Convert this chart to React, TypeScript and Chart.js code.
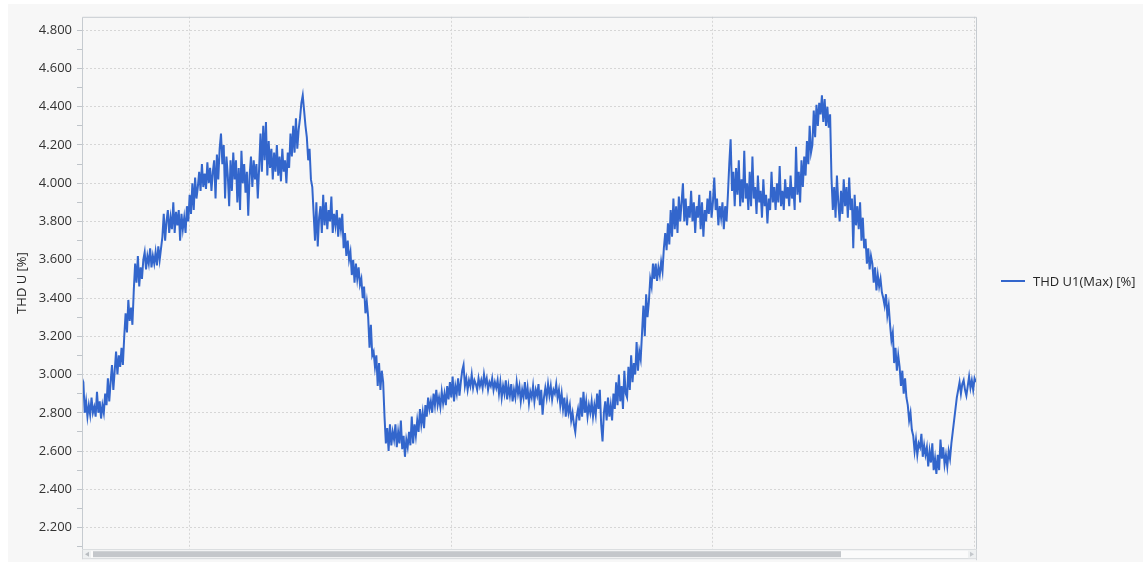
import React, { useEffect, useRef } from "react";
import { Chart, registerables } from "chart.js";

Chart.register(...registerables);

const SERIES_LABEL = "THD U1(Max) [%]";
const Y_TITLE = "THD U [%]";

// time axis (hours); vertical grid lines every 24 h
const START_HOUR = -9.85;
const STEP_HOURS = 0.125;
const X_MIN = -9.85;
const X_MAX = 72.25;
const X_GRID_HOURS = [0, 24, 48, 72];

// value axis
const Y_MIN = 2.087;
const Y_MAX = 4.87;
const Y_TICKS = [
  2.1, 2.2, 2.3, 2.4, 2.5, 2.6, 2.7, 2.8, 2.9, 3.0, 3.1, 3.2, 3.3, 3.4,
  3.5, 3.6, 3.7, 3.8, 3.9, 4.0, 4.1, 4.2, 4.3, 4.4, 4.5, 4.6, 4.7, 4.8,
];

// THD U1 (Max) [%], one sample every STEP_HOURS
const thdValues = [
  2.98, 2.96, 2.80, 2.86, 2.78, 2.84, 2.79, 2.88, 2.80, 2.83,
  2.78, 2.91, 2.80, 2.86, 2.77, 2.84, 2.80, 2.90, 2.84, 2.98,
  2.86, 2.96, 3.05, 2.92, 3.02, 3.12, 3.00, 3.10, 3.04, 3.14,
  3.05, 3.20, 3.32, 3.22, 3.39, 3.28, 3.35, 3.26, 3.44, 3.58,
  3.48, 3.62, 3.46, 3.56, 3.50, 3.60, 3.64, 3.55, 3.62, 3.58,
  3.66, 3.56, 3.62, 3.58, 3.64, 3.57, 3.67, 3.60, 3.66, 3.72,
  3.84, 3.70, 3.80, 3.86, 3.74, 3.82, 3.76, 3.90, 3.74, 3.85,
  3.78, 3.86, 3.70, 3.84, 3.76, 3.82, 3.74, 3.88, 3.80, 3.94,
  3.84, 4.00, 3.86, 4.03, 3.92, 3.98, 4.06, 3.96, 4.10, 3.98,
  4.05, 3.97, 4.11, 4.00, 4.08, 3.96, 4.06, 4.12, 3.92, 4.15,
  4.02, 4.18, 4.26, 4.10, 4.20, 3.92, 4.14, 4.04, 3.88, 4.12,
  3.96, 4.16, 4.02, 4.12, 3.90, 4.08, 3.86, 4.17, 4.00, 4.10,
  3.95, 4.06, 3.83, 4.04, 4.14, 3.98, 4.12, 4.02, 4.10, 3.92,
  4.08, 4.26, 4.06, 4.30, 4.12, 4.32, 4.04, 4.22, 4.08, 4.18,
  4.02, 4.16, 4.06, 4.20, 4.04, 4.14, 4.01, 4.18, 4.06, 4.12,
  4.00, 4.16, 4.08, 4.26, 4.14, 4.30, 4.16, 4.34, 4.18, 4.28,
  4.34, 4.42, 4.46, 4.38, 4.30, 4.24, 4.12, 4.18, 4.02, 3.98,
  3.84, 3.70, 3.90, 3.67, 3.82, 3.88, 3.74, 3.94, 3.78, 3.90,
  3.76, 3.86, 3.80, 3.93, 3.74, 3.84, 3.78, 3.86, 3.72, 3.82,
  3.76, 3.84, 3.66, 3.74, 3.62, 3.70, 3.60, 3.64, 3.52, 3.60,
  3.48, 3.58, 3.50, 3.56, 3.47, 3.50, 3.40, 3.46, 3.32, 3.38,
  3.30, 3.14, 3.26, 3.10, 3.12, 3.04, 3.10, 2.94, 3.06, 2.92,
  3.02, 2.96, 2.78, 2.64, 2.72, 2.60, 2.74, 2.63, 2.70, 2.66,
  2.74, 2.62, 2.70, 2.64, 2.76, 2.61, 2.68, 2.57, 2.66, 2.62,
  2.70, 2.63, 2.78, 2.64, 2.74, 2.68, 2.76, 2.70, 2.82, 2.74,
  2.80, 2.72, 2.84, 2.78, 2.88, 2.82, 2.86, 2.80, 2.90, 2.84,
  2.92, 2.84, 2.88, 2.83, 2.91, 2.85, 2.90, 2.84, 2.94, 2.87,
  2.96, 2.88, 2.99, 2.86, 2.94, 2.90, 2.98, 2.89, 2.96, 3.02,
  3.05, 2.94, 2.98, 2.92, 2.97, 2.94, 3.00, 2.93, 2.97, 2.95,
  2.92, 2.98, 2.94, 2.97, 2.93, 3.00, 2.95, 2.98, 2.92, 2.96,
  2.94, 2.98, 2.92, 2.96, 2.93, 2.97, 2.90, 2.96, 2.88, 2.94,
  2.90, 2.97, 2.87, 2.94, 2.89, 2.95, 2.86, 2.92, 2.88, 2.96,
  2.90, 2.94, 2.86, 2.92, 2.88, 2.96, 2.87, 2.93, 2.85, 2.91,
  2.88, 2.94, 2.86, 2.92, 2.89, 2.95, 2.84, 2.92, 2.79, 2.88,
  2.93, 2.88, 2.95, 2.89, 2.94, 2.87, 2.92, 2.90, 2.95, 2.88,
  2.92, 2.84, 2.90, 2.82, 2.88, 2.78, 2.86, 2.80, 2.84, 2.76,
  2.80, 2.74, 2.70, 2.78, 2.82, 2.76, 2.88, 2.78, 2.91, 2.80,
  2.86, 2.78, 2.84, 2.80, 2.86, 2.78, 2.84, 2.79, 2.90, 2.82,
  2.92, 2.74, 2.65, 2.80, 2.86, 2.76, 2.88, 2.78, 2.84, 2.76,
  2.90, 2.82, 2.96, 2.84, 3.00, 2.86, 2.94, 2.82, 3.02, 2.90,
  2.88, 3.04, 2.92, 3.10, 2.96, 3.06, 3.00, 3.17, 3.02, 3.12,
  3.08, 3.22, 3.36, 3.20, 3.42, 3.30, 3.38, 3.50, 3.46, 3.58,
  3.50, 3.58, 3.49, 3.56, 3.52, 3.59, 3.54, 3.66, 3.74, 3.65,
  3.79, 3.68, 3.86, 3.72, 3.92, 3.76, 3.88, 3.74, 3.93, 3.80,
  3.90, 4.00, 3.80, 3.92, 3.78, 3.88, 3.82, 3.96, 3.80, 3.90,
  3.74, 3.88, 3.82, 3.94, 3.76, 3.90, 3.72, 3.86, 3.80, 3.92,
  3.84, 3.96, 3.82, 3.90, 4.03, 3.86, 3.92, 3.78, 3.88, 3.82,
  3.90, 3.76, 3.88, 3.80, 3.94, 4.10, 4.23, 3.96, 4.06, 3.88,
  4.08, 3.94, 4.12, 3.88, 4.02, 3.90, 4.17, 3.92, 4.00, 3.86,
  4.06, 3.88, 4.14, 3.92, 3.98, 3.84, 4.04, 3.90, 3.96, 3.82,
  4.02, 3.88, 3.94, 3.79, 3.92, 3.86, 4.06, 3.90, 3.98, 3.86,
  4.00, 3.90, 4.09, 3.88, 3.96, 3.86, 4.02, 3.92, 3.98, 3.88,
  4.04, 3.92, 3.98, 3.86, 4.19, 3.94, 4.06, 3.90, 4.12, 3.98,
  4.14, 4.04, 4.22, 4.10, 4.30, 4.16, 4.20, 4.38, 4.24, 4.41,
  4.30, 4.42, 4.36, 4.46, 4.32, 4.44, 4.30, 4.40, 4.29, 4.36,
  4.03, 3.86, 3.98, 3.82, 4.04, 3.90, 3.80, 3.96, 3.84, 4.02,
  3.88, 3.98, 3.82, 4.03, 3.86, 3.92, 3.66, 3.94, 3.78, 3.88,
  3.76, 3.90, 3.70, 3.82, 3.66, 3.71, 3.58, 3.66, 3.55, 3.62,
  3.58, 3.48, 3.56, 3.44, 3.52, 3.46, 3.50, 3.43, 3.40, 3.36,
  3.42, 3.31, 3.36, 3.26, 3.18, 3.22, 3.06, 3.14, 3.02, 3.10,
  3.04, 2.94, 3.02, 2.90, 2.98, 2.88, 2.84, 2.76, 2.80, 2.71,
  2.68, 2.60, 2.66, 2.58, 2.64, 2.62, 2.69, 2.57, 2.63, 2.58,
  2.62, 2.52, 2.60, 2.54, 2.64, 2.50, 2.56, 2.48, 2.58, 2.50,
  2.66, 2.56, 2.62, 2.53, 2.58, 2.52, 2.60, 2.56, 2.64, 2.70,
  2.76, 2.82, 2.88, 2.92, 2.96, 2.90, 2.95, 2.97, 2.92, 2.89,
  2.94, 2.99, 2.93, 2.97, 2.92, 2.98, 2.96,
];

const LINE_COLOR = "#3366cc";
const FONT = "'Open Sans', 'Noto Sans', sans-serif";
const W = 1135;
const H = 558;

const isMajor = (v: number) => Math.round(v * 10) % 2 === 0;

const framePlugin = {
  id: "frameAndScroll",
  afterDraw(chart: any) {
    const { ctx, chartArea: a } = chart;
    ctx.save();
    ctx.setLineDash([]);
    // frame (left, top, right)
    ctx.strokeStyle = "#c6cbd0";
    ctx.lineWidth = 1;
    ctx.beginPath();
    ctx.moveTo(a.left + 0.5, a.bottom + 10);
    ctx.lineTo(a.left + 0.5, a.top + 0.5);
    ctx.lineTo(a.right - 0.5, a.top + 0.5);
    ctx.lineTo(a.right - 0.5, a.bottom + 11);
    ctx.stroke();
    // horizontal scrollbar
    const sy = a.bottom;
    const sh = 10;
    ctx.fillStyle = "#fbfbfb";
    ctx.fillRect(a.left, sy, a.right - a.left, sh);
    ctx.strokeStyle = "#d3d6d9";
    ctx.strokeRect(a.left + 0.5, sy + 0.5, a.right - a.left - 1, sh - 1);
    // left button
    ctx.fillStyle = "#eef0f1";
    ctx.fillRect(a.left + 1, sy + 1, 8, sh - 2);
    ctx.fillStyle = "#b9bdc1";
    ctx.beginPath();
    ctx.moveTo(a.left + 3, sy + 5);
    ctx.lineTo(a.left + 7, sy + 2.5);
    ctx.lineTo(a.left + 7, sy + 7.5);
    ctx.closePath();
    ctx.fill();
    // thumb
    ctx.fillStyle = "#c4c7cb";
    ctx.fillRect(a.left + 11, sy + 2, 748, sh - 4);
    // right button
    ctx.fillStyle = "#eef0f1";
    ctx.fillRect(a.right - 9, sy + 1, 8, sh - 2);
    ctx.fillStyle = "#c3c7cb";
    ctx.beginPath();
    ctx.moveTo(a.right - 3, sy + 5);
    ctx.lineTo(a.right - 7, sy + 2.5);
    ctx.lineTo(a.right - 7, sy + 7.5);
    ctx.closePath();
    ctx.fill();
    ctx.restore();
  },
};

const legendPlugin = {
  id: "sideLegend",
  afterDraw(chart: any) {
    const { ctx, chartArea: a } = chart;
    const ds = chart.data.datasets[0];
    const cy = Math.round((a.top + a.bottom) / 2) - 1;
    const x0 = a.right + 24;
    ctx.save();
    ctx.setLineDash([]);
    ctx.strokeStyle = ds.borderColor;
    ctx.lineWidth = 2;
    ctx.beginPath();
    ctx.moveTo(x0, cy - 1);
    ctx.lineTo(x0 + 24, cy - 1);
    ctx.stroke();
    ctx.fillStyle = "#262626";
    ctx.font = `13px ${FONT}`;
    ctx.textBaseline = "middle";
    ctx.textAlign = "left";
    ctx.fillText(ds.label, x0 + 32, cy);
    ctx.restore();
  },
};

export default function App() {
  const canvasRef = useRef<HTMLCanvasElement | null>(null);

  useEffect(() => {
    const canvas = canvasRef.current;
    if (!canvas) return;
    const points = thdValues.map((v, i) => ({ x: START_HOUR + i * STEP_HOURS, y: v }));
    const chart = new Chart(canvas, {
      type: "line",
      data: {
        datasets: [
          {
            label: SERIES_LABEL,
            data: points,
            borderColor: LINE_COLOR,
            backgroundColor: LINE_COLOR,
            borderWidth: 2,
            pointRadius: 0,
            tension: 0,
            fill: false,
          },
        ],
      },
      options: {
        animation: false,
        responsive: false,
        devicePixelRatio: 1,
        events: [],
        layout: { padding: { left: 0, top: 7, right: 166, bottom: 11 } },
        plugins: {
          legend: { display: false },
          tooltip: { enabled: false },
        },
        scales: {
          x: {
            type: "linear",
            min: X_MIN,
            max: X_MAX,
            afterBuildTicks: (scale: any) => {
              scale.ticks = X_GRID_HOURS.map((v) => ({ value: v }));
            },
            afterFit: (scale: any) => {
              scale.height = 0;
            },
            ticks: { display: false },
            grid: {
              color: "#d6d6d6",
              lineWidth: 1,
              drawTicks: false,
            },
            border: { display: false, dash: [2, 2] },
          },
          y: {
            type: "linear",
            min: Y_MIN,
            max: Y_MAX,
            afterBuildTicks: (scale: any) => {
              scale.ticks = Y_TICKS.map((v) => ({ value: v }));
            },
            afterFit: (scale: any) => {
              scale.width = 74;
            },
            ticks: {
              autoSkip: false,
              padding: 5,
              color: "#333333",
              font: { family: FONT, size: 13 },
              callback: (v: any) => (isMajor(Number(v)) ? Number(v).toFixed(3) : ""),
            },
            grid: {
              color: (c: any) => (c.tick && isMajor(c.tick.value) ? "#d6d6d6" : "rgba(0,0,0,0)"),
              lineWidth: 1,
              tickLength: 5,
              tickColor: "#bfc4c9",
              tickBorderDash: [],
            },
            border: { display: false, dash: [2, 2] },
            title: {
              display: true,
              text: Y_TITLE,
              color: "#262626",
              font: { family: FONT, size: 13 },
              padding: { top: 6, bottom: 0 },
            },
          },
        },
      },
      plugins: [framePlugin, legendPlugin],
    });
    return () => chart.destroy();
  }, []);

  return (
    <div
      style={{
        position: "absolute",
        left: 8,
        top: 4,
        width: W,
        height: H,
        background: "#f7f7f7",
      }}
    >
      <canvas ref={canvasRef} width={W} height={H} style={{ display: "block", width: W, height: H }} />
    </div>
  );
}
